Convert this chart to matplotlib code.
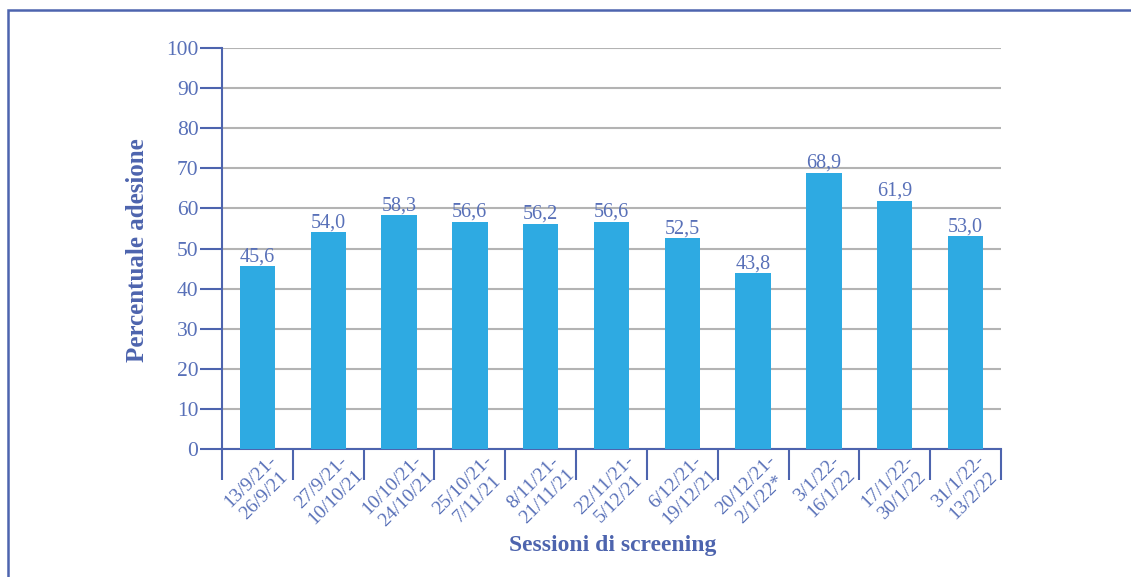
import matplotlib
matplotlib.use('Agg')
import matplotlib.pyplot as plt
import numpy as np
from matplotlib.patches import Rectangle

# dati
sessioni = ['13/9/21-\n26/9/21', '27/9/21-\n10/10/21', '10/10/21-\n24/10/21',
            '25/10/21-\n7/11/21', '8/11/21-\n21/11/21', '22/11/21-\n5/12/21',
            '6/12/21-\n19/12/21', '20/12/21-\n2/1/22*', '3/1/22-\n16/1/22',
            '17/1/22-\n30/1/22', '31/1/22-\n13/2/22']
adesione = [45.6, 54.0, 58.3, 56.6, 56.2, 56.6, 52.5, 43.8, 68.9, 61.9, 53.0]
y_ticks = [0, 10, 20, 30, 40, 50, 60, 70, 80, 90, 100]

blu = '#4d64ae'
blu_testo = '#5870b8'
barra = '#2eaae2'

plt.rcParams['font.family'] = ['Liberation Serif', 'DejaVu Serif']

fig = plt.figure(figsize=(11.31, 5.77), dpi=100)
ax = fig.add_axes([222 / 1131, 1 - 449 / 577, (1001 - 222) / 1131, (449 - 48) / 577])

# cornice esterna
fig.patches.append(Rectangle((8 / 1131, -0.1), 1.2, 1.1 - 10 / 577, transform=fig.transFigure,
                             fill=False, edgecolor=blu, linewidth=1.8))

x = np.arange(len(sessioni))
ax.bar(x, adesione, width=0.5, color=barra, zorder=3)

for xi, v in zip(x, adesione):
    ax.annotate(f'{v:.1f}'.replace('.', ','), (xi, v), xytext=(0, 0), textcoords='offset points',
                ha='center', va='bottom', fontsize=14.5, color=blu_testo)

ax.set_xlim(-0.5, len(sessioni) - 0.5)
ax.set_ylim(0, 100)
ax.set_yticks(y_ticks)
ax.set_yticklabels([str(t) for t in y_ticks], fontsize=15.5, color=blu_testo)
ax.tick_params(axis='y', direction='out', length=16, width=1.5, color=blu, pad=1)

# tacche sui confini delle categorie, etichette al centro
ax.set_xticks(np.arange(len(sessioni) + 1) - 0.5)
ax.set_xticklabels([])
ax.tick_params(axis='x', which='major', direction='out', length=22, width=1.5, color=blu)
ax.set_xticks(x, minor=True)
ax.set_xticklabels(sessioni, minor=True, rotation=45, ha='center', va='top',
                   fontsize=14, color=blu_testo, multialignment='center', linespacing=1.25)
ax.tick_params(axis='x', which='minor', length=0, pad=2)

ax.grid(axis='y', color='#b3b3b3', linewidth=1.5, zorder=0)
ax.set_axisbelow(True)

for s in ['top', 'right']:
    ax.spines[s].set_visible(False)
for s in ['left', 'bottom']:
    ax.spines[s].set_color(blu)
    ax.spines[s].set_linewidth(1.5)

ax.set_ylabel('Percentuale adesione', fontsize=18, fontweight='bold', color=blu)
ax.yaxis.set_label_coords((149 - 222) / 779, (449 - 250) / 401)
fig.text(613 / 1131, 1 - 546 / 577, 'Sessioni di screening', ha='center', va='center',
         fontsize=17, fontweight='bold', color=blu)

fig.savefig('out.png', dpi=100)
